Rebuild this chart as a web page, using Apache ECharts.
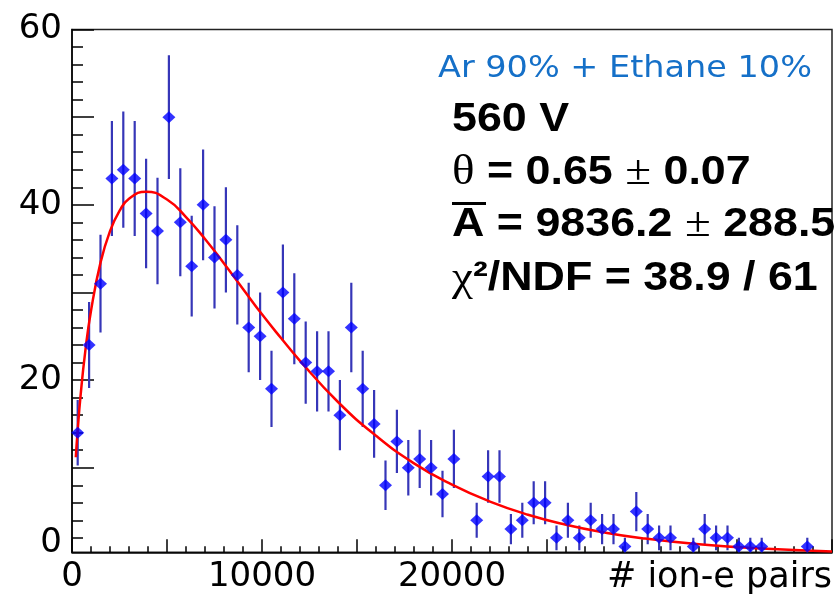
<!DOCTYPE html>
<html>
<head>
<meta charset="utf-8">
<script src="https://cdn.jsdelivr.net/npm/echarts@6/dist/echarts.min.js"></script>
<style>html,body{margin:0;padding:0;background:#fff;}#c{width:839px;height:599px;}</style>
</head>
<body>
<div id="c"></div>
<script>
// ---- data ----
const binCenters = [300,900,1500,2100,2700,3300,3900,4500,5100,5700,
  6300,6900,7500,8100,8700,9300,9900,10500,11100,11700,
  12300,12900,13500,14100,14700,15300,15900,16500,17100,17700,
  18300,18900,19500,20100,20700,21300,21900,22500,23100,23700,
  24300,24900,25500,26100,26700,27300,27900,28500,29100,29700,
  30300,30900,31500,32100,32700,33300,33900,34500,35100,35700,
  36300,36900,37500,38100,38700];
const counts = [14,24,31,43,44,43,39,37,50,38,
  33,40,34,36,32,26,25,19,30,27,
  22,21,21,16,26,19,15,8,13,10,
  11,10,7,11,0,4,9,9,3,4,
  6,6,2,4,2,4,3,3,1,5,
  3,2,2,0,1,3,2,2,1,1,
  1,0,0,0,1];
const errors = [3.74,4.90,5.57,6.56,6.63,6.56,6.24,6.08,7.07,6.16,
  5.74,6.32,5.83,6.00,5.66,5.10,5.00,4.36,5.48,5.20,
  4.69,4.58,4.58,4.00,5.10,4.36,3.87,2.83,3.61,3.16,
  3.32,3.16,2.65,3.32,0,2.00,3.00,3.00,1.73,2.00,
  2.45,2.45,1.41,2.00,1.41,2.00,1.73,1.73,1.00,2.24,
  1.73,1.41,1.41,0,1.00,1.73,1.41,1.41,1.00,1.00,
  1.00,0,0,0,1.00];
const fitX = [200,300,450,700,1000,1500,2000,2500,3000,3900,5000,6000,7000,8000,9000,10000,11000,12000,14000,16000,18000,20000,22000,24000,26000,28000,30000,33000,36000,40000];
const fitY = [11.2,14.3,18.2,23.3,27.9,33.4,37.0,39.3,40.7,41.5,40.6,38.6,36.1,33.3,30.4,27.5,24.8,22.2,17.5,13.65,10.5,8.07,6.14,4.64,3.5,2.62,1.96,1.26,0.81,0.44];
const xMajorTicks = [0,5000,10000,15000,20000,25000,30000,35000,40000];
const xMinorTicks = [1000,2000,3000,4000,6000,7000,8000,9000,11000,12000,13000,14000,16000,17000,18000,19000,21000,22000,23000,24000,26000,27000,28000,29000,31000,32000,33000,34000,36000,37000,38000,39000];
const xLabelValues = [0,10000,20000];
const yMin = 0.35, yMax = 60;
const yMajorTicks = [10,20,30,40,50,60];
const yMinorTicks = [2,4,6,8,12,14,16,18,22,24,26,28,32,34,36,38,42,44,46,48,52,54,56,58];
const yLabelValues = [0.35,20,40,60];
const xTitle = '# ion-e pairs';
const gasText = 'Ar 90% + Ethane 10%';

// ---- build ----
const pts = [], bars = [];
for (let i = 0; i < binCenters.length; i++) {
  if (counts[i] > 0) {
    pts.push([binCenters[i], counts[i]]);
    bars.push([binCenters[i], counts[i] - errors[i], counts[i] + errors[i]]);
  }
}
const fit = fitX.map((x, i) => [x, fitY[i]]);

const labelFont = 'DejaVu Sans';
const statFont = '"Liberation Sans", Arial, sans-serif';
const serif = '"Liberation Serif", "Times New Roman", serif';
const richStat = {
  s: {fontFamily: serif, fontSize: 42, color: '#000'},
  b: {fontFamily: statFont, fontWeight: 'bold', fontSize: 40, color: '#000'}
};

const chart = echarts.init(document.getElementById('c'), null, {renderer: 'canvas'});
chart.setOption({
  animation: false,
  backgroundColor: '#fff',
  grid: {left: 72, top: 29.5, width: 760, height: 522.8, show: true, borderColor: '#222', borderWidth: 1.5, containLabel: false, outerBoundsMode: 'none'},
  xAxis: [{
    type: 'value', min: 0, max: 40000, position: 'bottom',
    axisLine: {show: true, lineStyle: {color: '#000', width: 1.5}},
    splitLine: {show: false},
    axisTick: {show: true, inside: true, length: 13, customValues: xMajorTicks, lineStyle: {color: '#000', width: 1.5}},
    axisLabel: {show: true, customValues: xLabelValues, margin: 8, fontSize: 34, fontFamily: labelFont, color: '#000',
      formatter: function (v) { return String(v); }},
    name: xTitle, nameLocation: 'end', nameGap: 0,
    nameTextStyle: {fontSize: 35, fontFamily: labelFont, color: '#000', align: 'right', verticalAlign: 'top', padding: [8, 0, 0, 0]}
  }, {
    type: 'value', min: 0, max: 40000, position: 'bottom', gridIndex: 0,
    axisLine: {show: false}, splitLine: {show: false},
    axisTick: {show: true, inside: true, length: 6, customValues: xMinorTicks, lineStyle: {color: '#000', width: 1.5}},
    axisLabel: {show: false}
  }],
  yAxis: [{
    type: 'value', min: yMin, max: yMax, position: 'left',
    axisLine: {show: true, lineStyle: {color: '#000', width: 1.5}},
    splitLine: {show: false},
    axisTick: {show: true, inside: true, length: 22, customValues: yMajorTicks, lineStyle: {color: '#000', width: 1.5}},
    axisLabel: {show: true, customValues: yLabelValues, margin: 10, fontSize: 34, fontFamily: labelFont, color: '#000',
      formatter: function (v) { return v < 1 ? '{z|0}' : String(Math.round(v)); },
      rich: {z: {fontSize: 34, fontFamily: labelFont, color: '#000', padding: [0, 0, 18, 0]}}}
  }, {
    type: 'value', min: yMin, max: yMax, position: 'left',
    axisLine: {show: false}, splitLine: {show: false},
    axisTick: {show: true, inside: true, length: 11, customValues: yMinorTicks, lineStyle: {color: '#000', width: 1.5}},
    axisLabel: {show: false}
  }],
  series: [{
    type: 'custom', name: 'err', xAxisIndex: 0, yAxisIndex: 0, clip: true,
    data: bars, encode: {x: 0, y: [1, 2]},
    renderItem: function (params, api) {
      const x = api.value(0);
      const p1 = api.coord([x, api.value(1)]);
      const p2 = api.coord([x, api.value(2)]);
      return {type: 'line', shape: {x1: p1[0], y1: p1[1], x2: p2[0], y2: p2[1]}, style: {stroke: '#3636b8', lineWidth: 2.2}};
    }
  }, {
    type: 'line', name: 'fit', data: fit, smooth: 0.5, showSymbol: false, symbol: 'none',
    lineStyle: {color: '#ff0000', width: 2.5}, z: 3, clip: true
  }, {
    type: 'scatter', name: 'data', data: pts, symbol: 'diamond', symbolSize: [13, 12],
    itemStyle: {color: '#0000ff'}, z: 4, clip: true
  }],
  graphic: [
    {type: 'text', x: 438, y: 69, scaleX: 1.08, style: {text: gasText, fill: '#1570c8', font: '31px "DejaVu Sans"', align: 'left', verticalAlign: 'middle'}},
    {type: 'text', x: 452, y: 120, scaleX: 1.12, style: {text: '560 V', fill: '#000', font: 'bold 40px ' + statFont, align: 'left', verticalAlign: 'middle'}},
    {type: 'text', x: 452, y: 173, scaleX: 1.12, style: {text: '{s|θ}{b| = 0.65 }{s|±}{b| 0.07}', align: 'left', verticalAlign: 'middle', rich: richStat}},
    {type: 'text', x: 452, y: 225, scaleX: 1.12, style: {text: '{b|A = 9836.2 }{s|±}{b| 288.5}', align: 'left', verticalAlign: 'middle', rich: richStat}},
    {type: 'rect', shape: {x: 452, y: 202, width: 34, height: 3}, style: {fill: '#000'}},
    {type: 'text', x: 452, y: 279, scaleX: 1.12, style: {text: '{s|χ}{b|²/NDF = 38.9 / 61}', align: 'left', verticalAlign: 'middle', rich: richStat}}
  ]
});
</script>
</body>
</html>
